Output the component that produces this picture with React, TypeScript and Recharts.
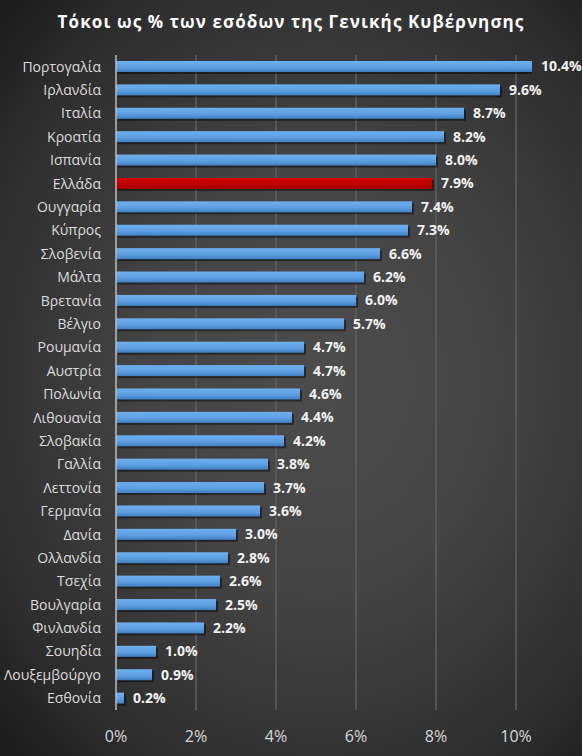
import React from 'react';
import { BarChart, Bar, XAxis, YAxis, CartesianGrid, LabelList, Cell } from 'recharts';

const countries = [
  'Πορτογαλία', 'Ιρλανδία', 'Ιταλία', 'Κροατία', 'Ισπανία', 'Ελλάδα', 'Ουγγαρία',
  'Κύπρος', 'Σλοβενία', 'Μάλτα', 'Βρετανία', 'Βέλγιο', 'Ρουμανία', 'Αυστρία',
  'Πολωνία', 'Λιθουανία', 'Σλοβακία', 'Γαλλία', 'Λεττονία', 'Γερμανία', 'Δανία',
  'Ολλανδία', 'Τσεχία', 'Βουλγαρία', 'Φινλανδία', 'Σουηδία', 'Λουξεμβούργο', 'Εσθονία',
];

const interest = [
  10.4, 9.6, 8.7, 8.2, 8.0, 7.9, 7.4, 7.3, 6.6, 6.2, 6.0, 5.7, 4.7, 4.7,
  4.6, 4.4, 4.2, 3.8, 3.7, 3.6, 3.0, 2.8, 2.6, 2.5, 2.2, 1.0, 0.9, 0.2,
];

const xTicks = [0, 2, 4, 6, 8, 10];
const gridValues = [2, 4, 6, 8, 10];
const highlight = 'Ελλάδα';

const data = countries.map((name, i) => ({ name, value: interest[i] }));

const FONT = '"Open Sans", "Noto Sans", sans-serif';

const BarShape = (props: any) => {
  const { x, y, width, height, name } = props;
  if (width <= 0) return null;
  const fill = name === highlight ? 'url(#redGrad)' : 'url(#blueGrad)';
  return (
    <g>
      <rect x={x + 2} y={y + 2} width={width} height={height} fill="#000" opacity={0.45} />
      <rect x={x} y={y} width={width} height={height} fill={fill} />
    </g>
  );
};

export default function App() {
  return (
    <div
      style={{
        position: 'absolute',
        left: 0,
        top: 0,
        width: 582,
        height: 756,
        background: 'radial-gradient(ellipse 75% 70% at 55% 50%, #4c4c4c 0%, #444 40%, #2e2e2e 80%, #1c1c1c 100%)',
        fontFamily: FONT,
      }}
    >
      <div
        style={{
          position: 'absolute',
          top: 10,
          left: 0,
          width: 582,
          textAlign: 'center',
          color: '#fff',
          fontWeight: 'bold',
          fontSize: 17,
          letterSpacing: 1.1,
        }}
      >
        Τόκοι ως % των εσόδων της Γενικής Κυβέρνησης
      </div>
      <BarChart
        width={582}
        height={756}
        data={data}
        layout="vertical"
        margin={{ top: 55, right: 50, left: 0, bottom: 0 }}
        barSize={11}
      >
        <defs>
          <linearGradient id="blueGrad" x1="0" y1="0" x2="0" y2="1">
            <stop offset="0%" stopColor="#6fb0ee" />
            <stop offset="60%" stopColor="#5b9de0" />
            <stop offset="100%" stopColor="#3f7fc2" />
          </linearGradient>
          <linearGradient id="redGrad" x1="0" y1="0" x2="0" y2="1">
            <stop offset="0%" stopColor="#d40000" />
            <stop offset="100%" stopColor="#a80000" />
          </linearGradient>
        </defs>
        <CartesianGrid horizontal={false} verticalValues={gridValues} stroke="#5e5e5e" strokeWidth={1.5} />
        <XAxis
          type="number"
          domain={[0, 10.4]}
          ticks={xTicks}
          allowDataOverflow
          tickFormatter={(v: number) => `${v}%`}
          axisLine={false}
          tickLine={false}
          tickMargin={15}
          height={46}
          tick={{ fill: '#d8d8d8', fontSize: 16, fontFamily: FONT }}
        />
        <YAxis
          type="category"
          dataKey="name"
          width={116}
          axisLine={{ stroke: '#bdbdbd', strokeWidth: 1.5 }}
          tickLine={false}
          tickMargin={9}
          interval={0}
          tick={{ fill: '#dcdcdc', fontSize: 14, fontFamily: FONT }}
        />
        <Bar dataKey="value" shape={<BarShape />} isAnimationActive={false}>
          {data.map((d) => (
            <Cell key={d.name} />
          ))}
          <LabelList
            dataKey="value"
            position="right"
            offset={9}
            formatter={(v: number) => `${v.toFixed(1)}%`}
            style={{ fill: '#f2f2f2', fontWeight: 'bold', fontSize: 14, fontFamily: FONT }}
          />
        </Bar>
      </BarChart>
    </div>
  );
}
